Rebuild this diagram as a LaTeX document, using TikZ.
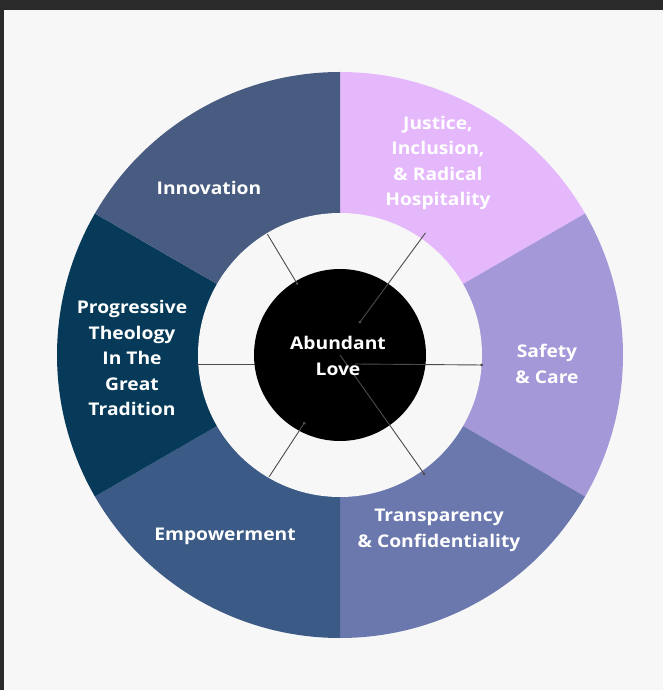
\documentclass[tikz,border=0pt]{standalone}
\usepackage{fontspec}
\setmainfont{Open Sans}[FakeStretch=1.1]
\usetikzlibrary{calc,positioning,arrows.meta}

\definecolor{frame}{HTML}{2A2A2A}
\definecolor{paper}{HTML}{F7F7F7}
\definecolor{innov}{HTML}{485B80}
\definecolor{justice}{HTML}{E5B8FC}
\definecolor{safety}{HTML}{A598D8}
\definecolor{transp}{HTML}{6B78AE}
\definecolor{empower}{HTML}{3B5A85}
\definecolor{theology}{HTML}{063A58}

\tikzset{
spokeend/.tip={Circle[length=2.8pt]}
}

\begin{document}
\begin{tikzpicture}[
x=1pt,y=1pt,
valuetext/.style={
	text=white,
	align=center,
	inner sep=0pt,
	font=\fontsize{17.5}{25.5}\selectfont\bfseries
},
spoke/.style={
	draw=black!70,
	line width=0.9pt
},
hub/.style={
	circle,
	fill=black,
	minimum size=172pt,
	inner sep=0pt
}
]
% page and dark frame
\useasboundingbox (-340,-335) rectangle (323,355);
\fill[paper] (-340,-335) rectangle (323,355);
\fill[frame] (-340,345) rectangle (323,355);
\fill[frame] (-340,-335) rectangle (-335.5,355);

% six sectors of the wheel
\foreach \s/\c in {30/justice,-30/safety,-90/transp,-150/empower,150/theology,90/innov}
\fill[\c] (0,0) -- (\s:283) arc[start angle=\s, delta angle=60, radius=283] -- cycle;

% white ring and black hub
\fill[paper] (0,0) circle (142);
\node[hub] (core) at (0,0) {};

% spokes across the ring
\coordinate (ul0) at (121:82);   \coordinate (ul1) at (121:141);
\coordinate (ur0) at (59:37);    \coordinate (ur1) at (55:149);
\coordinate (l0) at (-85,-9);    \coordinate (l1) at (-143,-9);
\coordinate (r0) at (15,-9);     \coordinate (r1) at (143,-10);
\coordinate (ll0) at (-35,-67);  \coordinate (ll1) at (-71,-122);
\coordinate (lr0) at (0,0);      \coordinate (lr1) at (85,-120);

\draw[spoke,spokeend-] (ul0) -- (ul1);
\draw[spoke,spokeend-] (ur0) -- (ur1);
\draw[spoke] (l0) -- (l1);
\draw[spoke,-spokeend] (r0) -- (r1);
\draw[spoke,spokeend-] (ll0) -- (ll1);
\draw[spoke,-spokeend] (lr0) -- (lr1);

% labels
\node[valuetext] (love) at (-2,-1) {Abundant\\Love};
\node[valuetext] (justiceText) at (98,192) {Justice,\\Inclusion,\\\& Radical\\Hospitality};
\node[valuetext] (safetyText) at (207,-9) {Safety\\\& Care};
\node[valuetext] (transpText) at (99,-175.5) {Transparency\\\& Confidentiality};
\node[valuetext] (empowerText) at (-115,-181) {Empowerment};
\node[valuetext] (theologyText) at (-208,-3) {Progressive\\Theology\\In The\\Great\\Tradition};
\node[valuetext] (innovText) at (-131,167) {Innovation};
\end{tikzpicture}
\end{document}
